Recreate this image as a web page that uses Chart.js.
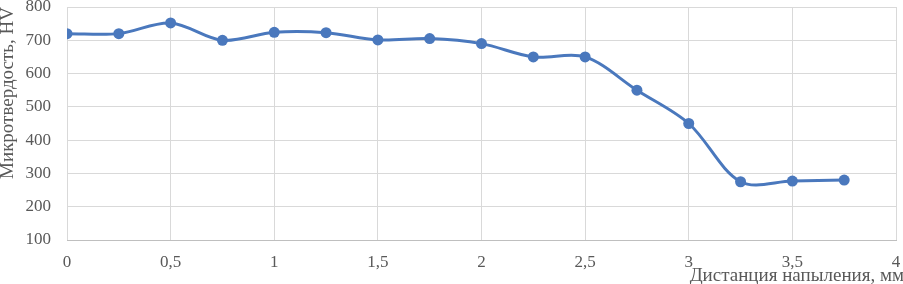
<!DOCTYPE html>
<html>
<head>
<meta charset="utf-8">
<script src="https://cdn.jsdelivr.net/npm/chart.js@4/dist/chart.umd.min.js"></script>
<style>
  html, body { margin: 0; padding: 0; background: #fff; }
  #wrap { width: 903px; height: 284px; }
</style>
</head>
<body>
<div id="wrap"><canvas id="hvChart" width="903" height="284"></canvas></div>
<script>
const distances = [0, 0.25, 0.5, 0.75, 1, 1.25, 1.5, 1.75, 2, 2.25, 2.5, 2.75, 3, 3.25, 3.5, 3.75];
const hardness  = [720, 720, 752, 700, 724, 723, 701, 705, 690, 650, 650, 550, 450, 275, 277, 280];
const xTitle = "Дистанция напыления, мм";
const yTitle = "Микротвердость, HV";

const textColor = "#595959";
const gridColor = "#d9d9d9";
const serif = "'Liberation Serif', 'Times New Roman', serif";

// axis titles sit where the original put them, not centered on the axes
const axisTitles = {
    id: "axisTitles",
    afterDraw(chart) {
        const ctx = chart.ctx;
        ctx.save();
        ctx.fillStyle = textColor;
        ctx.font = "19px " + serif;
        ctx.textBaseline = "alphabetic";
        ctx.textAlign = "right";
        ctx.fillText(xTitle, 904, 281);
        ctx.translate(13, 93);
        ctx.rotate(-Math.PI / 2);
        ctx.textAlign = "center";
        ctx.fillText(yTitle, 0, 0);
        ctx.restore();
    }
};

const points = distances.map((x, i) => ({ x: x, y: hardness[i] }));

new Chart(document.getElementById("hvChart"), {
    type: "line",
    data: {
        datasets: [{
            data: points,
            borderColor: "#4a78bd",
            backgroundColor: "#4a78bd",
            borderWidth: 3,
            pointRadius: 5.5,
            pointBorderWidth: 0,
            tension: 0.33,
            fill: false
        }]
    },
    options: {
        responsive: false,
        animation: false,
        layout: { padding: { top: 7, right: 7, left: 0, bottom: 0 } },
        plugins: { legend: { display: false }, tooltip: { enabled: false } },
        scales: {
            x: {
                type: "linear",
                min: 0, max: 4,
                ticks: {
                    stepSize: 0.5,
                    color: textColor,
                    font: { family: serif, size: 17 },
                    padding: 12,
                    maxRotation: 0,
                    callback: v => String(v).replace(".", ",")
                },
                grid: { color: gridColor, drawTicks: false },
                border: { color: "#bfbfbf" },
                afterFit: s => { s.height = 44; s.paddingLeft = 0; s.paddingRight = 0; }
            },
            y: {
                min: 100, max: 800,
                ticks: {
                    stepSize: 100,
                    color: textColor,
                    font: { family: serif, size: 17 },
                    padding: 16
                },
                grid: { color: gridColor, drawTicks: false },
                border: { display: false },
                afterFit: s => { s.width = 67; s.paddingTop = 0; s.paddingBottom = 0; }
            }
        }
    },
    plugins: [axisTitles]
});
</script>
</body>
</html>
